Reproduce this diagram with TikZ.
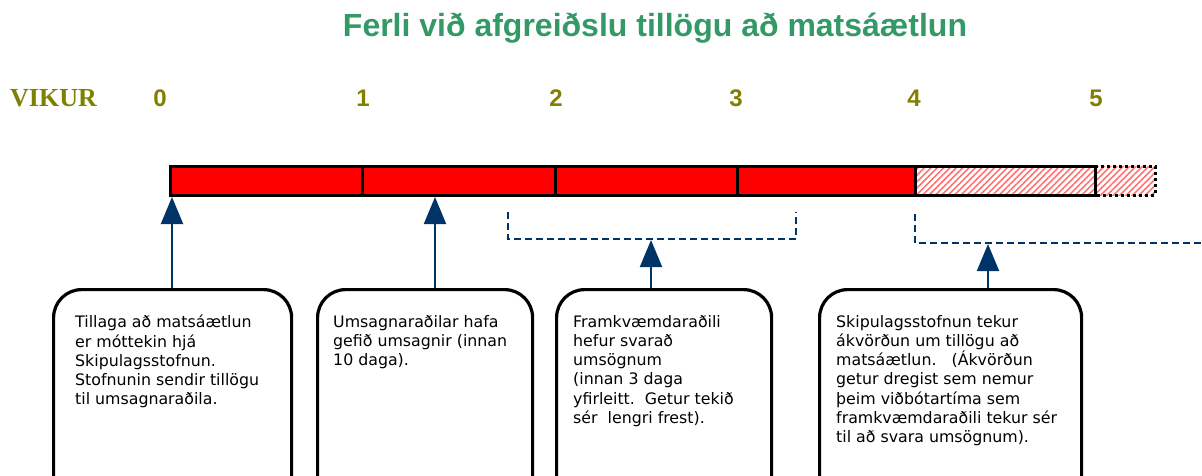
\documentclass[tikz,border=0pt]{standalone}
\usepackage{fontspec}
\setmainfont{Liberation Sans}
\newfontfamily\boxfont{DejaVu Sans}
\newfontfamily\serifb{Liberation Serif}
\usetikzlibrary{arrows.meta,patterns.meta,calc}
\definecolor{titlegreen}{HTML}{339966}
\definecolor{olivec}{HTML}{808000}
\definecolor{navy}{HTML}{003366}
\tikzset{
  seg/.style={draw=black,line width=3pt,fill=red},
  hatch/.style={pattern={Lines[angle=45,distance=4.5pt,line width=1.6pt]},pattern color=red!55},
  week/.style={font=\fontsize{24}{28}\selectfont\bfseries,text=olivec},
  infobox/.style={draw=black,line width=3.2pt,rounded corners=28pt,anchor=north west},
  boxtext/.style={anchor=north west,align=left,inner sep=0pt,font=\boxfont\fontsize{15.8}{19.2}\selectfont},
  upar/.style={draw=navy,line width=2pt,-{Triangle[width=22pt,length=27pt]}},
  bracket/.style={draw=navy,line width=1.3pt,dash pattern=on 7pt off 4pt}
}
\begin{document}
\begin{tikzpicture}[x=1pt,y=-1pt]
\useasboundingbox (0,0) rectangle (1202,475);
\clip (0,0) rectangle (1202,475);
\node[font=\fontsize{32}{36}\selectfont\bfseries,text=titlegreen] (title) at (655,28) {Ferli við afgreiðslu tillögu að matsáætlun};
\node[anchor=west,font=\serifb\fontsize{26}{28}\selectfont\bfseries,text=olivec,inner sep=0pt] (vikur) at (10,98) {VIKUR};
\node[week] (w0) at (160,98) {0};
\node[week] (w1) at (363,98) {1};
\node[week] (w2) at (556,98) {2};
\node[week] (w3) at (736,98) {3};
\node[week] (w4) at (914,98) {4};
\node[week] (w5) at (1096,98) {5};
% bar
\draw[seg] (170,166) rectangle (362,195);
\draw[seg] (362,166) rectangle (555,195);
\draw[seg] (555,166) rectangle (737,195);
\draw[seg] (737,166) rectangle (915,195);
\fill[white] (915,166) rectangle (1155,195);
\fill[hatch] (915,166) rectangle (1155,195);
\draw[black,line width=3pt] (915,166) rectangle (1095,195);
\draw[black,line width=3pt,dash pattern=on 3pt off 3pt] (1095,166) -- (1155,166) -- (1155,195) -- (1095,195);
\coordinate (barbot0) at (172,197);
\coordinate (barbot1) at (435,197);
% brackets
\coordinate (b1a) at (508,212);
\coordinate (b1b) at (796,212);
\draw[bracket] (b1a) -- (508,239) -- (796,239) -- (b1b);
\coordinate (b1m) at (651,240);
\coordinate (b2a) at (915,214);
\coordinate (b2e) at (1202,243);
\draw[bracket] (b2a) -- (915,243) -- (b2e);
\coordinate (b2m) at (988,244);
% boxes
\node[infobox,minimum width=238pt,minimum height=230pt] (box1) at (52,288) {};
\node[infobox,minimum width=215pt,minimum height=230pt] (box2) at (316,288) {};
\node[infobox,minimum width=215pt,minimum height=230pt] (box3) at (555,288) {};
\node[infobox,minimum width=262pt,minimum height=230pt] (box4) at (818,288) {};
\node[boxtext] (t1) at (75,315) {Tillaga að matsáætlun\\er móttekin hjá\\Skipulagsstofnun.\\Stofnunin sendir tillögu\\til umsagnaraðila.};
\node[boxtext] (t2) at (333,315) {Umsagnaraðilar hafa\\gefið umsagnir (innan\\10 daga).};
\node[boxtext] (t3) at (573,315) {Framkvæmdaraðili\\hefur svarað\\umsögnum\\(innan 3 daga\\yfirleitt.\ \ Getur tekið\\sér\ \ lengri frest).};
\node[boxtext] (t4) at (836,315) {Skipulagsstofnun tekur\\ákvörðun um tillögu að\\matsáætlun.\ \ \ (Ákvörðun\\getur dregist sem nemur\\þeim viðbótartíma sem\\framkvæmdaraðili tekur sér\\til að svara umsögnum).};
% arrows
\draw[upar] (box1.north west -| barbot0) -- (barbot0);
\draw[upar] (box2.north west -| barbot1) -- (barbot1);
\draw[upar] (box3.north west -| b1m) -- (b1m);
\draw[upar] (box4.north west -| b2m) -- (b2m);
\end{tikzpicture}
\end{document}
